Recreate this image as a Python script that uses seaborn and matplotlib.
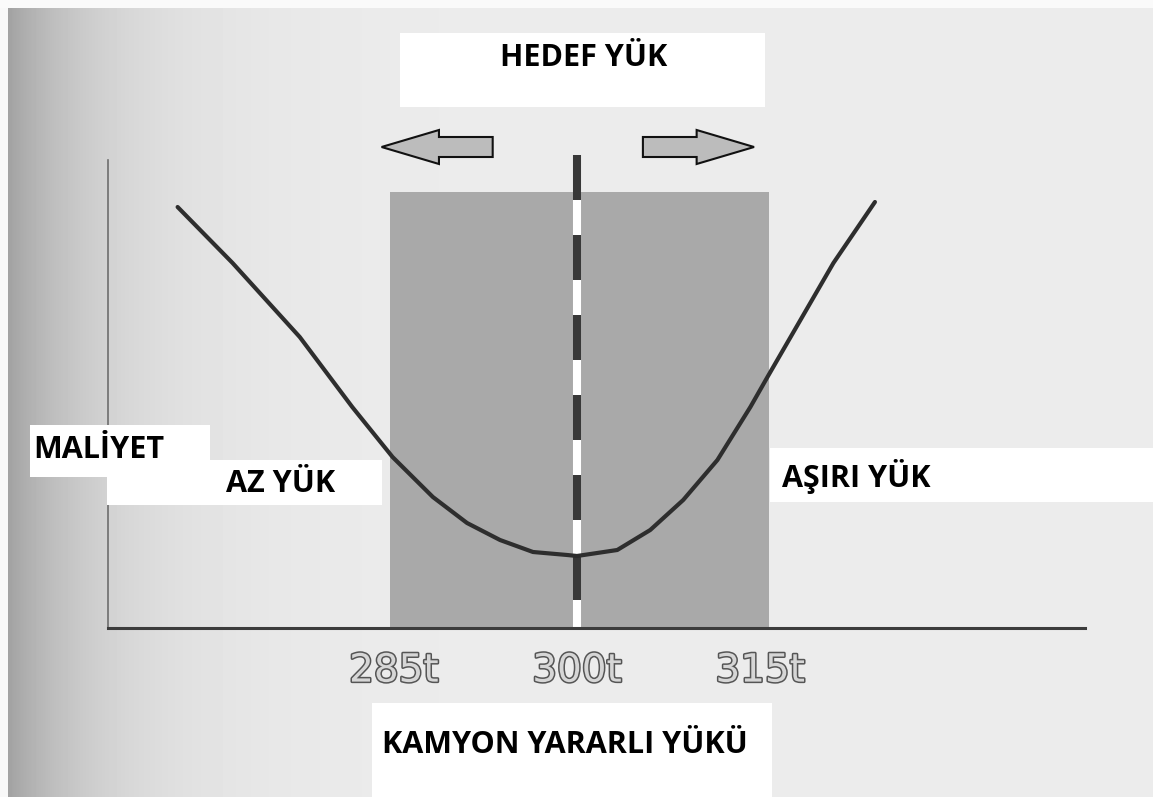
import numpy as np
import matplotlib
matplotlib.use("Agg")
import matplotlib.pyplot as plt
import matplotlib.patheffects as pe
from matplotlib.patches import FancyArrow, Rectangle
import seaborn as sns

# cost curve (payload in t, cost in arbitrary units)
load_t = [267.3, 271.8, 277.3, 281.6, 284.9, 288.2, 291.0, 293.7, 296.4, 299.2, 300.0,
          303.3, 306.0, 308.7, 311.5, 314.2, 315.6, 318.3, 321.0, 324.4]
cost = [42.1, 36.5, 29.1, 22.1, 17.1, 13.1, 10.5, 8.8, 7.6, 7.3, 7.2,
        7.8, 9.8, 12.8, 16.8, 22.1, 25.1, 30.8, 36.5, 42.6]

tick_loads = [285, 300, 315]
tick_labels = ["285t", "300t", "315t"]
target_load = 300
band_loads = [284.7, 315.7]
band_top = 43.6

sns.set_theme(style="white")
plt.rcParams['font.family'] = ['Open Sans', 'DejaVu Sans']
plt.rcParams['lines.scale_dashes'] = False

W, H = 1153, 797
fig = plt.figure(figsize=(W / 100, H / 100), dpi=100)


def fx(px):
    return px / W


def fy(py):
    return 1 - py / H


# scanned-page background: light grey, darker towards the binding on the left
bg = fig.add_axes([0, 0, 1, 1], zorder=-10)
cols = np.arange(W)
shade = 0.925 - 0.29 * np.exp(-(cols - 8) / 95.0)
img = np.tile(shade, (H, 1))
img[:, :8] = 0.97
img[:8, :] = 0.98
bg.imshow(img, cmap="gray", vmin=0, vmax=1, aspect="auto", extent=[0, W, H, 0])
bg.axis("off")

ax = fig.add_axes([fx(108), fy(628), fx(1085) - fx(108), fy(100) - fy(628)])
ax.set_facecolor("none")
ax.set_xlim(261.6, 341.6)
ax.set_ylim(0, 52.8)

# tolerance band around target payload
ax.fill_between(band_loads, 0, band_top, color="#a9a9a9", lw=0, zorder=1)

# target payload line, dark dashes with white gaps
ax.plot([target_load, target_load], [0, band_top], color="white", lw=5.8, zorder=2,
        solid_capstyle="butt")
ax.plot([target_load, target_load], [47.3, 0], color="#383838", lw=5.8, zorder=2,
        dashes=(32.4, 25.2), dash_capstyle="butt")

sns.lineplot(x=load_t, y=cost, ax=ax, color="#2e2e2e", lw=3, sort=False, zorder=3)

# arrows above the target line
for x0, dx in [(293.1, -9.1), (305.4, 9.1)]:
    ax.add_patch(FancyArrow(x0, 48.1, dx, 0, width=2.0, head_width=3.4, head_length=4.7,
                            length_includes_head=True, fc="#bcbcbc", ec="#111111",
                            lw=1.5, zorder=4, clip_on=False))

sns.despine(ax=ax)
ax.spines['left'].set_bounds(0, 46.8)
ax.spines['left'].set_color("#6e6e6e")
ax.spines['left'].set_linewidth(1.2)
ax.spines['bottom'].set_color("#3c3c3c")
ax.spines['bottom'].set_linewidth(2.2)

ax.set_yticks([])
ax.set_xticks(tick_loads, tick_labels)
ax.tick_params(axis="x", length=0, pad=17, labelsize=28, labelcolor="#d6d6d6")
for lbl in ax.get_xticklabels():
    lbl.set_fontfamily("DejaVu Sans")
    lbl.set_path_effects([pe.withStroke(linewidth=2.2, foreground="#555555")])

# pasted white label boxes
boxes = [(400, 33, 765, 107), (30, 425, 210, 477), (107, 460, 382, 505),
         (770, 448, 1153, 502), (372, 703, 772, 797)]
for x0, y0, x1, y1 in boxes:
    fig.patches.append(Rectangle((fx(x0), fy(y1)), fx(x1) - fx(x0), fy(y0) - fy(y1),
                                 transform=fig.transFigure, fc="white", ec="none",
                                 zorder=10))

txt = dict(fontsize=22, fontweight="bold", color="black", zorder=11, va="center")
fig.text(fx(584), fy(58), "HEDEF YÜK", ha="center", **txt)
fig.text(fx(33), fy(450), "MALİYET", ha="left", **txt)
fig.text(fx(226), fy(484), "AZ YÜK", ha="left", **txt)
fig.text(fx(782), fy(476), "AŞIRI YÜK", ha="left", **txt)
fig.text(fx(565), fy(745), "KAMYON YARARLI YÜKÜ", ha="center", **txt)

fig.savefig("out.png", dpi=100)
